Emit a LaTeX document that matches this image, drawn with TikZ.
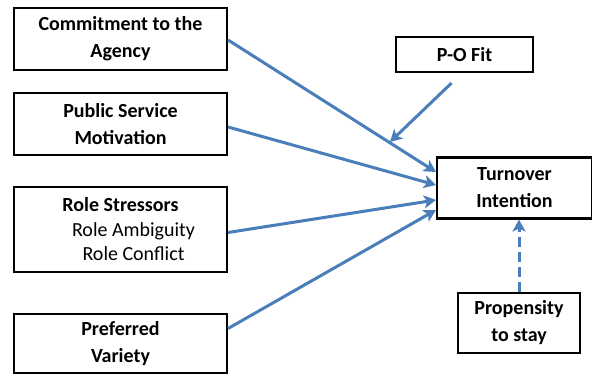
\documentclass[tikz,border=0pt]{standalone}
\usepackage{fontspec}
\setmainfont{Carlito}
\usetikzlibrary{arrows.meta}
\definecolor{arrblue}{RGB}{74,126,187}
\begin{document}
\begin{tikzpicture}[x=1pt,y=-1pt,
  box/.style={draw=black,line width=2.1pt,rectangle,inner sep=0pt,align=center,
    font=\fontsize{20}{27}\selectfont\bfseries,fill=white},
  link/.style={draw=arrblue,line width=3pt,-{Stealth[length=12pt,width=13pt,inset=3pt]}},
  dlink/.style={link,dash pattern=on 10pt off 5pt}]
\useasboundingbox (0,0) rectangle (592,375);
\node[box,minimum width=213pt,minimum height=62pt] (c1) at (120.5,39) {Commitment to the\\Agency};
\node[box,minimum width=213pt,minimum height=62pt] (c2) at (120.5,124) {Public Service\\Motivation};
\node[box,minimum width=213pt,minimum height=85pt,font=\fontsize{20}{24.5}\selectfont] (c3) at (120.5,229.5) {\textbf{Role Stressors}\\\hspace*{26pt}Role Ambiguity\\\hspace*{26pt}Role Conflict};
\node[box,minimum width=213pt,minimum height=59pt] (c4) at (120.5,343.5) {Preferred\\Variety};
\node[box,minimum width=137pt,minimum height=35pt] (po) at (464.5,54.5) {P-O Fit};
\node[box,minimum width=155pt,minimum height=61pt] (tov) at (514.5,188) {Turnover\\Intention};
\node[box,minimum width=122pt,minimum height=60pt] (prop) at (519,323) {Propensity\\to stay};
\coordinate (poend) at (390,142);
\draw[link] ([yshift=-1pt]c1.east) -- ([yshift=16pt]tov.west);
\draw[link] ([yshift=-3pt]c2.east) -- ([yshift=3pt]tov.west);
\draw[link] ([yshift=-3pt]c3.east) -- ([yshift=-12pt]tov.west);
\draw[link] ([yshift=15pt]c4.east) -- ([yshift=-22pt]tov.west);
\draw[link] ([xshift=-13pt,yshift=-10pt]po.south) -- (poend);
\draw[dlink] (prop.north) -- (prop.north |- tov.south);
\end{tikzpicture}
\end{document}
